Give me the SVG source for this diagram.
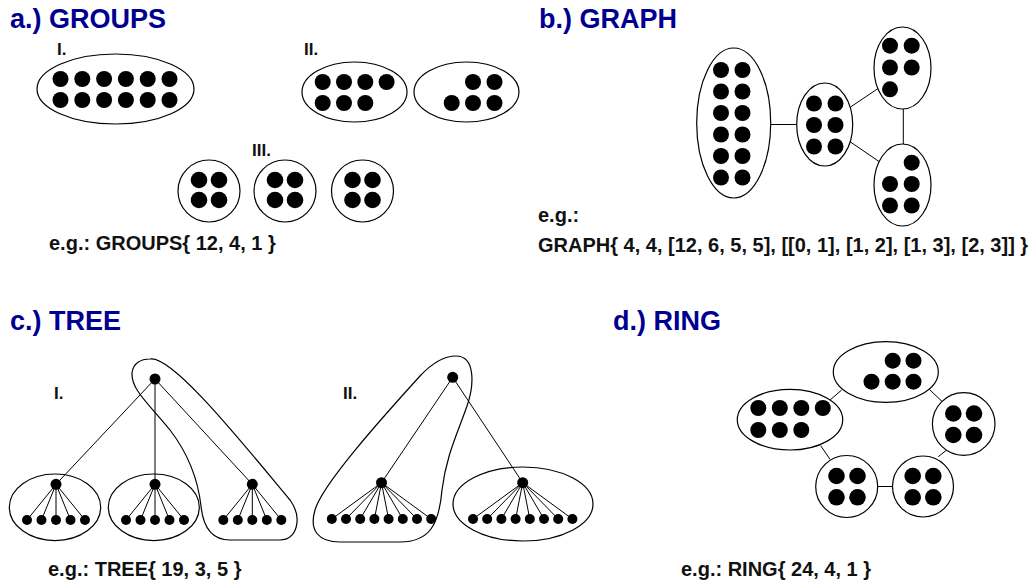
<svg xmlns="http://www.w3.org/2000/svg" width="1028" height="583" viewBox="0 0 1028 583">
<style>
text{font-family:"Liberation Sans",Arial,sans-serif;font-weight:bold;}
.title{font-size:27px;fill:#000090;}
.lbl{font-size:17px;fill:#111;}
.eg{font-size:20px;fill:#111;}
.ring{fill:#fff;stroke:#000;stroke-width:1.2;}
.hull{fill:none;stroke:#000;stroke-width:1.2;}
.dot{fill:#000;}
.edge{stroke:#000;stroke-width:1;fill:none;}
</style>
<rect width="1028" height="583" fill="#fff"/>

<!-- Titles and labels -->
<text class="title" x="10" y="28">a.) GROUPS</text>
<text class="title" x="539" y="28">b.) GRAPH</text>
<text class="title" x="10" y="330">c.) TREE</text>
<text class="title" x="613" y="330">d.) RING</text>
<text class="lbl" x="57" y="55">I.</text>
<text class="lbl" x="304" y="55">II.</text>
<text class="lbl" x="252" y="156">III.</text>
<text class="lbl" x="54" y="399">I.</text>
<text class="lbl" x="343" y="399">II.</text>
<text class="eg" x="49" y="250">e.g.: GROUPS{ 12, 4, 1 }</text>
<text class="eg" x="538" y="222">e.g.:</text>
<text class="eg" x="538" y="252">GRAPH{ 4, 4, [12, 6, 5, 5], [[0, 1], [1, 2], [1, 3], [2, 3]] }</text>
<text class="eg" x="48" y="576">e.g.: TREE{ 19, 3, 5 }</text>
<text class="eg" x="681" y="576">e.g.: RING{ 24, 4, 1 }</text>

<!-- Connectors -->
<g id="connectors">
  <!-- graph -->
  <line class="edge" x1="770.7" y1="124.5" x2="796.7" y2="124.5"/>
  <line class="edge" x1="851" y1="106.7" x2="878.3" y2="88.3"/>
  <line class="edge" x1="850" y1="141.7" x2="879.3" y2="161.7"/>
  <line class="edge" x1="903.3" y1="109" x2="903.3" y2="144"/>
  <!-- ring -->
  <line class="edge" x1="830" y1="400" x2="841.7" y2="390"/>
  <line class="edge" x1="929.3" y1="389.3" x2="942.3" y2="401.7"/>
  <line class="edge" x1="946.7" y1="450" x2="938.3" y2="456.7"/>
  <line class="edge" x1="820.7" y1="445.7" x2="830" y2="459.3"/>
  <line class="edge" x1="877.7" y1="486.5" x2="892.5" y2="486.5"/>
  <!-- tree I -->
  <line class="edge" x1="155" y1="379" x2="56" y2="484.3"/>
  <line class="edge" x1="155" y1="379" x2="155" y2="484.3" stroke="#444" stroke-width="1.5"/>
  <line class="edge" x1="155" y1="379" x2="252.3" y2="484.3"/>
  <g id="t1-c1-links">
    <line class="edge" x1="56" y1="484.3" x2="27" y2="520"/>
    <line class="edge" x1="56" y1="484.3" x2="41.5" y2="520"/>
    <line class="edge" x1="56" y1="484.3" x2="56" y2="520"/>
    <line class="edge" x1="56" y1="484.3" x2="70.5" y2="520"/>
    <line class="edge" x1="56" y1="484.3" x2="85" y2="520"/>
  </g>
  <g id="t1-c2-links">
    <line class="edge" x1="155" y1="484.3" x2="126" y2="520"/>
    <line class="edge" x1="155" y1="484.3" x2="140.5" y2="520"/>
    <line class="edge" x1="155" y1="484.3" x2="155" y2="520"/>
    <line class="edge" x1="155" y1="484.3" x2="169.5" y2="520"/>
    <line class="edge" x1="155" y1="484.3" x2="184" y2="520"/>
  </g>
  <g id="t1-c3-links">
    <line class="edge" x1="252.3" y1="484.3" x2="223.3" y2="520"/>
    <line class="edge" x1="252.3" y1="484.3" x2="237.8" y2="520"/>
    <line class="edge" x1="252.3" y1="484.3" x2="252.3" y2="520"/>
    <line class="edge" x1="252.3" y1="484.3" x2="266.8" y2="520"/>
    <line class="edge" x1="252.3" y1="484.3" x2="281.3" y2="520"/>
  </g>
  <!-- tree II -->
  <line class="edge" x1="452.7" y1="377.3" x2="381.5" y2="482.7"/>
  <line class="edge" x1="452.7" y1="377.3" x2="522.7" y2="482.7"/>
  <g id="t2-c1-links">
    <line class="edge" x1="381.5" y1="482.7" x2="331.8" y2="519"/>
    <line class="edge" x1="381.5" y1="482.7" x2="346" y2="519"/>
    <line class="edge" x1="381.5" y1="482.7" x2="360.2" y2="519"/>
    <line class="edge" x1="381.5" y1="482.7" x2="374.4" y2="519"/>
    <line class="edge" x1="381.5" y1="482.7" x2="388.6" y2="519"/>
    <line class="edge" x1="381.5" y1="482.7" x2="402.8" y2="519"/>
    <line class="edge" x1="381.5" y1="482.7" x2="417" y2="519"/>
    <line class="edge" x1="381.5" y1="482.7" x2="431.2" y2="519"/>
  </g>
  <g id="t2-c2-links">
    <line class="edge" x1="522.7" y1="482.7" x2="473" y2="519"/>
    <line class="edge" x1="522.7" y1="482.7" x2="487.2" y2="519"/>
    <line class="edge" x1="522.7" y1="482.7" x2="501.4" y2="519"/>
    <line class="edge" x1="522.7" y1="482.7" x2="515.6" y2="519"/>
    <line class="edge" x1="522.7" y1="482.7" x2="529.8" y2="519"/>
    <line class="edge" x1="522.7" y1="482.7" x2="544" y2="519"/>
    <line class="edge" x1="522.7" y1="482.7" x2="558.2" y2="519"/>
    <line class="edge" x1="522.7" y1="482.7" x2="572.4" y2="519"/>
  </g>
</g>

<!-- a.) GROUPS -->
<g id="groupI">
  <ellipse class="ring" cx="115.5" cy="89" rx="78.5" ry="35"/>
  <g class="dot">
    <circle cx="60.5" cy="79" r="8"/><circle cx="82.3" cy="79" r="8"/><circle cx="104.1" cy="79" r="8"/><circle cx="125.9" cy="79" r="8"/><circle cx="147.7" cy="79" r="8"/><circle cx="169.5" cy="79" r="8"/>
    <circle cx="60.5" cy="100" r="8"/><circle cx="82.3" cy="100" r="8"/><circle cx="104.1" cy="100" r="8"/><circle cx="125.9" cy="100" r="8"/><circle cx="147.7" cy="100" r="8"/><circle cx="169.5" cy="100" r="8"/>
  </g>
</g>
<g id="groupII-1">
  <ellipse class="ring" cx="354.5" cy="92" rx="52.5" ry="30"/>
  <g class="dot">
    <circle cx="322.7" cy="82" r="8"/><circle cx="344" cy="82" r="8"/><circle cx="365.3" cy="82" r="8"/><circle cx="386.6" cy="82" r="8"/>
    <circle cx="322.7" cy="103" r="8"/><circle cx="344" cy="103" r="8"/><circle cx="365.3" cy="103" r="8"/>
  </g>
</g>
<g id="groupII-2">
  <ellipse class="ring" cx="466.5" cy="92" rx="52.5" ry="30"/>
  <g class="dot">
    <circle cx="473" cy="82" r="8"/><circle cx="494.5" cy="82" r="8"/>
    <circle cx="451.7" cy="103" r="8"/><circle cx="473" cy="103" r="8"/><circle cx="494.5" cy="103" r="8"/>
  </g>
</g>
<g id="groupIII-1">
  <circle class="ring" cx="209" cy="191" r="31"/>
  <g class="dot"><circle cx="199" cy="180" r="8.3"/><circle cx="219" cy="180" r="8.3"/><circle cx="199" cy="200" r="8.3"/><circle cx="219" cy="200" r="8.3"/></g>
</g>
<g id="groupIII-2">
  <circle class="ring" cx="285" cy="191" r="31"/>
  <g class="dot"><circle cx="275" cy="180" r="8.3"/><circle cx="295" cy="180" r="8.3"/><circle cx="275" cy="200" r="8.3"/><circle cx="295" cy="200" r="8.3"/></g>
</g>
<g id="groupIII-3">
  <circle class="ring" cx="362.5" cy="191" r="31"/>
  <g class="dot"><circle cx="352.5" cy="180" r="8.3"/><circle cx="372.5" cy="180" r="8.3"/><circle cx="352.5" cy="200" r="8.3"/><circle cx="372.5" cy="200" r="8.3"/></g>
</g>

<!-- b.) GRAPH -->
<g id="graph0">
  <ellipse class="ring" cx="733.7" cy="123" rx="37" ry="75"/>
  <g class="dot">
    <circle cx="721" cy="70" r="8"/><circle cx="742.5" cy="70" r="8"/>
    <circle cx="721" cy="91.5" r="8"/><circle cx="742.5" cy="91.5" r="8"/>
    <circle cx="721" cy="113" r="8"/><circle cx="742.5" cy="113" r="8"/>
    <circle cx="721" cy="134.5" r="8"/><circle cx="742.5" cy="134.5" r="8"/>
    <circle cx="721" cy="156" r="8"/><circle cx="742.5" cy="156" r="8"/>
    <circle cx="721" cy="177.5" r="8"/><circle cx="742.5" cy="177.5" r="8"/>
  </g>
</g>
<g id="graph1">
  <ellipse class="ring" cx="824.7" cy="124.5" rx="28" ry="41.5"/>
  <g class="dot">
    <circle cx="814" cy="103.5" r="8"/><circle cx="835.5" cy="103.5" r="8"/>
    <circle cx="814" cy="125" r="8"/><circle cx="835.5" cy="125" r="8"/>
    <circle cx="814" cy="146.5" r="8"/><circle cx="835.5" cy="146.5" r="8"/>
  </g>
</g>
<g id="graph2">
  <ellipse class="ring" cx="902.5" cy="68" rx="28.5" ry="41"/>
  <g class="dot">
    <circle cx="890" cy="45.7" r="8"/><circle cx="911.7" cy="45.7" r="8"/>
    <circle cx="890" cy="67.5" r="8"/><circle cx="911.7" cy="67.5" r="8"/>
    <circle cx="890" cy="89.3" r="8"/>
  </g>
</g>
<g id="graph3">
  <ellipse class="ring" cx="902.5" cy="185" rx="28.5" ry="41"/>
  <g class="dot">
    <circle cx="911.7" cy="162.7" r="8"/>
    <circle cx="890" cy="184" r="8"/><circle cx="911.7" cy="184" r="8"/>
    <circle cx="890" cy="205.5" r="8"/><circle cx="911.7" cy="205.5" r="8"/>
  </g>
</g>

<!-- c.) TREE I -->
<g id="treeI-group1">
  <ellipse class="hull" cx="55" cy="507.3" rx="45.7" ry="33.3"/>
</g>
<g id="treeI-group2">
  <ellipse class="hull" cx="153.8" cy="507.3" rx="45.5" ry="33.3"/>
</g>
<g id="treeI-group3">
  <path class="hull" d="M150,359 C172,355 240,440 290,500 C303,518 297,540 280,540 L230,540 C211,540 203,526 201,506 C198,480 190,456 170,430 C150,405 131,390 132,373 C133,363 141,359 150,359 Z"/>
</g>
<g id="treeI-nodes" class="dot">
  <circle cx="155" cy="379" r="5.5"/>
  <circle cx="56" cy="484.3" r="5.5"/><circle cx="155" cy="484.3" r="5.5"/><circle cx="252.3" cy="484.3" r="5.5"/>
  <circle cx="27" cy="520" r="5"/><circle cx="41.5" cy="520" r="5"/><circle cx="56" cy="520" r="5"/><circle cx="70.5" cy="520" r="5"/><circle cx="85" cy="520" r="5"/>
  <circle cx="126" cy="520" r="5"/><circle cx="140.5" cy="520" r="5"/><circle cx="155" cy="520" r="5"/><circle cx="169.5" cy="520" r="5"/><circle cx="184" cy="520" r="5"/>
  <circle cx="223.3" cy="520" r="5"/><circle cx="237.8" cy="520" r="5"/><circle cx="252.3" cy="520" r="5"/><circle cx="266.8" cy="520" r="5"/><circle cx="281.3" cy="520" r="5"/>
</g>

<!-- c.) TREE II -->
<g id="treeII-group1">
  <path class="hull" d="M456,356 C476,356 474,386 467,406 C458,432 446,456 442,490 C439,524 430,542 400,542 L340,542 C318,542 309,530 315,510 C322,485 380,420 420,376 C435,360 446,356 456,356 Z"/>
</g>
<g id="treeII-group2">
  <ellipse class="hull" cx="523" cy="504" rx="70" ry="37"/>
</g>
<g id="treeII-nodes" class="dot">
  <circle cx="452.7" cy="377.3" r="5.5"/>
  <circle cx="381.5" cy="482.7" r="5.5"/><circle cx="522.7" cy="482.7" r="5.5"/>
  <circle cx="331.8" cy="519" r="5"/><circle cx="346" cy="519" r="5"/><circle cx="360.2" cy="519" r="5"/><circle cx="374.4" cy="519" r="5"/><circle cx="388.6" cy="519" r="5"/><circle cx="402.8" cy="519" r="5"/><circle cx="417" cy="519" r="5"/><circle cx="431.2" cy="519" r="5"/>
  <circle cx="473" cy="519" r="5"/><circle cx="487.2" cy="519" r="5"/><circle cx="501.4" cy="519" r="5"/><circle cx="515.6" cy="519" r="5"/><circle cx="529.8" cy="519" r="5"/><circle cx="544" cy="519" r="5"/><circle cx="558.2" cy="519" r="5"/><circle cx="572.4" cy="519" r="5"/>
</g>

<!-- d.) RING -->
<g id="ring-top">
  <ellipse class="ring" cx="885.8" cy="372" rx="52.5" ry="30.3"/>
  <g class="dot">
    <circle cx="892.7" cy="360.7" r="8"/><circle cx="913.5" cy="360.7" r="8"/>
    <circle cx="871.5" cy="381.7" r="8"/><circle cx="892.7" cy="381.7" r="8"/><circle cx="913.5" cy="381.7" r="8"/>
  </g>
</g>
<g id="ring-left">
  <ellipse class="ring" cx="790" cy="419.7" rx="52.7" ry="30.3"/>
  <g class="dot">
    <circle cx="758.3" cy="408" r="8"/><circle cx="779.8" cy="408" r="8"/><circle cx="801.3" cy="408" r="8"/><circle cx="822.8" cy="408" r="8"/>
    <circle cx="758.3" cy="430" r="8"/><circle cx="779.8" cy="430" r="8"/><circle cx="801.3" cy="430" r="8"/>
  </g>
</g>
<g id="ring-right">
  <circle class="ring" cx="963.7" cy="424" r="31.3"/>
  <g class="dot"><circle cx="953.3" cy="413.5" r="8.3"/><circle cx="974" cy="413.5" r="8.3"/><circle cx="953.3" cy="435" r="8.3"/><circle cx="974" cy="435" r="8.3"/></g>
</g>
<g id="ring-bottom-left">
  <circle class="ring" cx="846.7" cy="486.5" r="31"/>
  <g class="dot"><circle cx="836.5" cy="476" r="8.3"/><circle cx="857.5" cy="476" r="8.3"/><circle cx="836.5" cy="497.3" r="8.3"/><circle cx="857.5" cy="497.3" r="8.3"/></g>
</g>
<g id="ring-bottom-right">
  <circle class="ring" cx="923" cy="486.5" r="30.5"/>
  <g class="dot"><circle cx="912.7" cy="476" r="8.3"/><circle cx="933.3" cy="476" r="8.3"/><circle cx="912.7" cy="497.3" r="8.3"/><circle cx="933.3" cy="497.3" r="8.3"/></g>
</g>
</svg>
